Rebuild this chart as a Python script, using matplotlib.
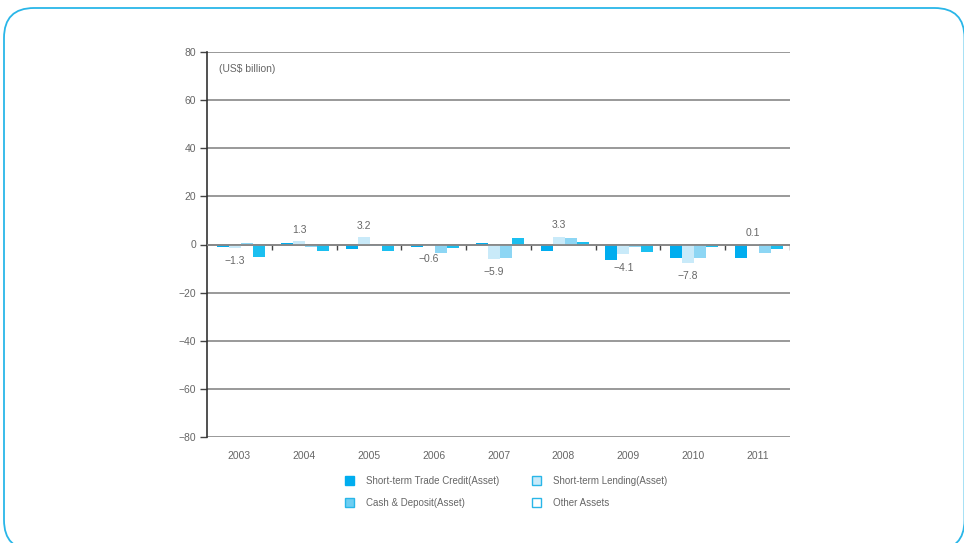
import numpy as np
import matplotlib
matplotlib.use("Agg")
import matplotlib.pyplot as plt
from matplotlib.patches import FancyBboxPatch, Patch

# external assets by type, US$ billion
years = ["2003", "2004", "2005", "2006", "2007", "2008", "2009", "2010", "2011"]
trade_credit = [-1.2, 0.5, -2.0, -1.0, 0.7, -2.5, -6.3, -5.8, -5.8]
lending = [-1.3, 1.3, 3.2, -0.6, -5.9, 3.3, -4.1, -7.8, 0.1]
cash_deposit = [0.5, -1.0, -0.7, -3.5, -5.8, 2.5, -1.0, -5.8, -3.6]
other_assets = [-5.0, -2.5, -2.5, -1.5, 2.8, 1.0, -3.2, -1.0, -2.0]
yticks = [80, 60, 40, 20, 0, -20, -40, -60, -80]

TXT = "#666666"
plt.rcParams["font.family"] = ["Liberation Sans", "DejaVu Sans"]

fig = plt.figure(figsize=(9.64, 5.43), dpi=100)
# rounded frame in inches; bottom and right edges sit just past the canvas
fig.patches.append(FancyBboxPatch((0.04, -0.07), 9.605, 5.42,
                                  boxstyle="round,pad=0,rounding_size=0.3",
                                  transform=fig.dpi_scale_trans, fill=False,
                                  edgecolor="#29b6e8", lw=1.3))

ax = fig.add_axes([207 / 964, 106 / 543, 583 / 964, 385 / 543])
x = np.arange(len(years))
w = 0.185
series = [
    (trade_credit, "#00adef"),
    (lending, "#c9eaf9"),
    (cash_deposit, "#8dd6f4"),
    (other_assets, "#1bbff0"),
]
for i, (vals, col) in enumerate(series):
    ax.bar(x + (i - 1.5) * w + 0.02, vals, w, color=col, zorder=3)

for xi, v in zip(x, lending):
    ax.annotate(f"{v:.1f}".replace("-", "\u2212"), (xi - 0.5 * w + 0.02, v),
                xytext=(0, 8 if v >= 0 else -9.5), textcoords="offset points",
                ha="center", va="center", fontsize=7.5, color=TXT)

ax.set_xlim(-0.5, len(years) - 0.5)
ax.set_ylim(-80, 80)
ax.set_yticks(yticks)
ax.set_yticklabels([f"{t}".replace("-", "\u2212") for t in yticks])
for t in yticks:
    ax.axhline(t, color="#888888", lw=1.2, zorder=1)
ax.vlines(np.arange(len(years)) + 0.5, -2.2, 0, color="#444444", lw=1, zorder=4)
ax.axhline(0, color="#888888", lw=1.3, zorder=4)

ax.set_xticks(x)
ax.set_xticklabels(years)
ax.tick_params(axis="x", length=0, pad=10, labelsize=7.5, labelcolor=TXT)
ax.tick_params(axis="y", length=5, width=1, color="#444444", pad=3,
               labelsize=7.5, labelcolor=TXT)
for s in ["top", "right", "bottom"]:
    ax.spines[s].set_visible(False)
ax.spines["left"].set_color("#333333")
ax.spines["left"].set_linewidth(1.2)

ax.text(0.02, 0.955, "(US$ billion)", transform=ax.transAxes, fontsize=7.5,
        color=TXT, va="center", ha="left")

handles = [
    Patch(facecolor="#00adef", edgecolor="#00adef", label="Short-term Trade Credit(Asset)"),
    Patch(facecolor="#6dcef2", edgecolor="#29b6e8", label="Cash & Deposit(Asset)"),
    Patch(facecolor="#c9eaf9", edgecolor="#29b6e8", label="Short-term Lending(Asset)"),
    Patch(facecolor="white", edgecolor="#29b6e8", label="Other Assets"),
]
leg = fig.legend(handles=handles, ncol=2, loc="upper left",
                 bbox_to_anchor=(336 / 964, (543 - 467) / 543), frameon=False,
                 fontsize=7, handlelength=0.95, handleheight=0.95,
                 handletextpad=1.2, labelspacing=1.25, columnspacing=3.4)
for t in leg.get_texts():
    t.set_color(TXT)

fig.savefig("out.png", dpi=100)
